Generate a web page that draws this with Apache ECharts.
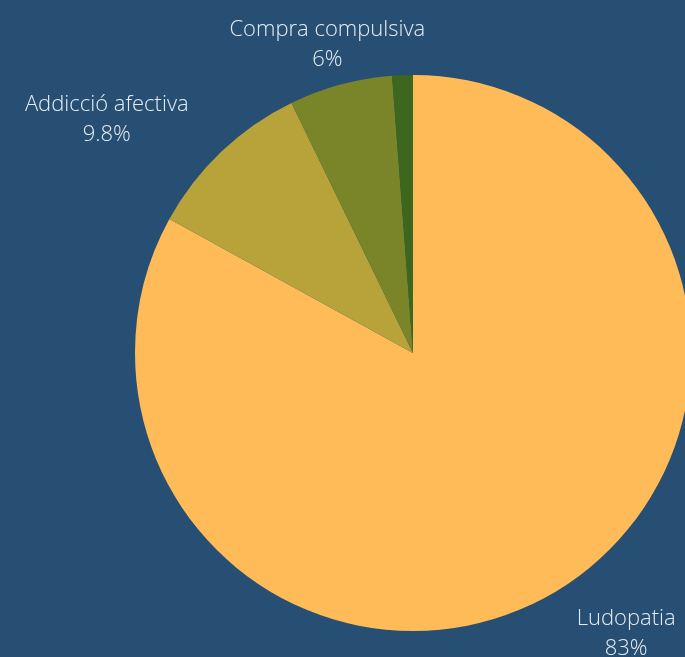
<!DOCTYPE html>
<html>
<head>
<meta charset="utf-8">
<script src="https://cdn.jsdelivr.net/npm/echarts@6/dist/echarts.min.js"></script>
<style>
  html, body { margin: 0; padding: 0; background: #274f73; }
  #chart { width: 685px; height: 657px; }
</style>
</head>
<body>
<div id="chart"></div>
<script>
const categories = ["Ludopatia", "Addicció afectiva", "Compra compulsiva", "Altres"];
const values = [83, 9.8, 6, 1.2];
const colors = ["#ffbb57", "#b8a33b", "#7a8529", "#3d661e"];
const showLabel = [true, true, true, false];

// nudges applied to the labels ECharts places, so they sit like the original
const labelNudge = [[7, 24], [-14, -17], [95, -21], [0, 0]];

const chart = echarts.init(document.getElementById("chart"));

chart.setOption({
  backgroundColor: "#274f73",
  animation: false,
  series: [
    {
      type: "pie",
      center: [413, 353],
      radius: 278,
      startAngle: 90,
      clockwise: true,
      data: categories.map((name, i) => ({
        name,
        value: values[i],
        itemStyle: { color: colors[i] },
        label: { show: showLabel[i] },
      })),
      label: {
        position: "outside",
        formatter: (p) => p.name + "\n" + p.value + "%",
        color: "#e6ecf2",
        fontFamily: "Open Sans",
        fontWeight: 300,
        fontSize: 22,
        lineHeight: 30,
      },
      labelLine: { show: false, length: 20, length2: 0 },
      labelLayout: (p) => {
        const r = p.labelRect;
        const n = labelNudge[p.dataIndex];
        return {
          x: r.x + r.width / 2 + n[0],
          y: r.y + r.height / 2 + n[1],
          align: "center",
          verticalAlign: "middle",
        };
      },
      itemStyle: { borderWidth: 0 },
      emphasis: { disabled: true },
    },
  ],
});
</script>
</body>
</html>
